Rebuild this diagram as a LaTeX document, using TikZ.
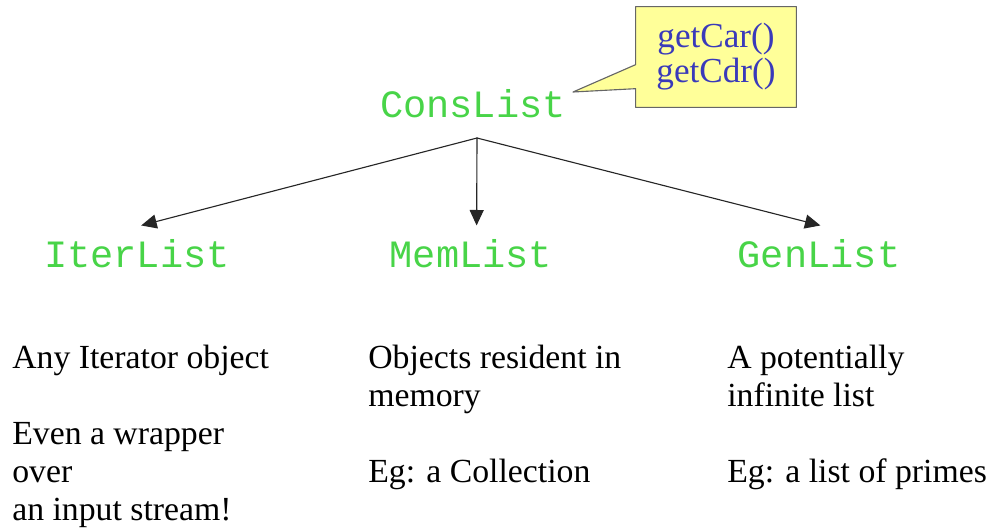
\documentclass[tikz,border=0pt]{standalone}
\usepackage{fontspec}
\setmainfont{Liberation Serif}
\newfontfamily\codefont{Liberation Mono}
\usetikzlibrary{arrows.meta,shapes.callouts}
\definecolor{listgreen}{RGB}{72,212,72}
\definecolor{noteblue}{RGB}{58,58,186}
\definecolor{noteyellow}{RGB}{255,255,153}
\tikzset{
  listname/.style={inner sep=0pt, text=listgreen, font=\codefont\fontsize{27.5}{30}\selectfont},
  desc/.style={anchor=north west, inner sep=0pt, align=left, font=\fontsize{24}{27}\selectfont},
  down/.style={-{Triangle[length=11pt,width=10pt]}, line width=0.8pt, black!85}
}
\begin{document}
\begin{tikzpicture}[x=0.025cm,y=-0.025cm,line cap=round,line join=round]
\useasboundingbox (0,0) rectangle (993,527);
% class names
\node[listname] (cons) at (473,104) {ConsList};
\node[listname] (iter) at (137,254) {IterList};
\node[listname] (mem) at (471,254) {MemList};
\node[listname] (gen) at (819,254) {GenList};
% note on the methods
\node[rectangle callout, callout absolute pointer={(573,92)}, callout pointer width=0.6cm,
  fill=noteyellow, draw=black!60, line width=0.8pt, minimum width=4.02cm, minimum height=2.52cm,
  align=center, text=noteblue, font=\fontsize{25}{25}\selectfont] (note) at (716,57) {getCar()\\getCdr()};
% arrows
\coordinate (fork) at (477,138);
\draw[down] (fork) -- ([xshift=3pt,yshift=10pt]iter.north);
\draw[down] (fork) -- ([xshift=4pt,yshift=10pt]mem.north);
\draw[down] (fork) -- ([xshift=1pt,yshift=10pt]gen.north);
% descriptions
\node[desc] (itext) at (12,345) {Any Iterator object\\[27pt]Even a wrapper\\over\\an input stream!};
\node[desc] (mtext) at (368,345) {Objects resident in\\memory\\[27pt]Eg: a Collection};
\node[desc] (gtext) at (727,345) {A potentially\\infinite list\\[27pt]Eg: a list of primes};
\end{tikzpicture}
\end{document}
